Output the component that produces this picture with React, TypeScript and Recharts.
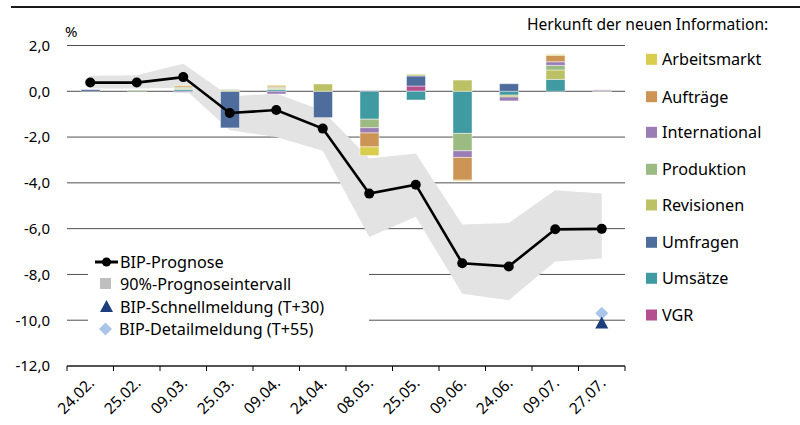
import React from 'react';
import { ComposedChart, Bar, Line, Area, XAxis, YAxis, CartesianGrid } from 'recharts';

const categories = ['24.02.', '25.02.', '09.03.', '25.03.', '09.04.', '24.04.', '08.05.', '25.05.', '09.06.', '24.06.', '09.07.', '27.07.'];
const prognose = [0.38, 0.38, 0.62, -0.95, -0.82, -1.63, -4.47, -4.08, -7.51, -7.65, -6.03, -6.01];
const intervalUpper = [0.68, 0.70, 1.20, -0.22, -0.10, -0.85, -2.94, -2.72, -5.82, -5.75, -4.32, -4.46];
const intervalLower = [0.12, 0.12, 0.15, -1.70, -2.00, -2.60, -6.36, -5.48, -8.84, -9.13, -7.44, -7.30];
const schnellmeldung = [null, null, null, null, null, null, null, null, null, null, null, -10.1];
const detailmeldung = [null, null, null, null, null, null, null, null, null, null, null, -9.7];

const vgr = [0, 0, 0, 0, 0, 0, 0, 0.23, 0, 0, 0, 0];
const umsaetze = [0, 0, 0.08, 0, 0.08, 0, -1.22, -0.38, -1.84, -0.17, 0.52, 0];
const umfragen = [0.08, 0, 0, -1.6, 0, -1.15, 0, 0.44, 0, 0.33, 0, 0];
const revisionen = [0, 0, 0.05, 0.05, 0.05, 0.32, 0, 0.07, 0.49, -0.08, 0.41, 0.02];
const produktion = [0, 0.05, 0.05, 0.03, 0.05, 0, -0.37, 0, -0.76, 0, 0.2, 0];
const international = [0.02, 0, -0.05, 0, -0.12, 0, -0.23, 0, -0.29, -0.17, 0.16, 0.04];
const auftraege = [0, 0, 0.06, 0, 0.05, 0, -0.61, 0, -0.99, 0, 0.28, 0];
const arbeitsmarkt = [0, 0, 0.03, 0, 0.04, 0, -0.38, 0, -0.04, 0, 0.04, 0];

const yTicks = [-12, -10, -8, -6, -4, -2, 0, 2];

// stacking order from zero outward
const barSeries = [
  { key: 'VGR', values: vgr, color: '#b4508e' },
  { key: 'Umsätze', values: umsaetze, color: '#3f9aa2' },
  { key: 'Umfragen', values: umfragen, color: '#4e6d9c' },
  { key: 'Revisionen', values: revisionen, color: '#bbc164' },
  { key: 'Produktion', values: produktion, color: '#9cbb83' },
  { key: 'International', values: international, color: '#9b7db6' },
  { key: 'Aufträge', values: auftraege, color: '#cd9555' },
  { key: 'Arbeitsmarkt', values: arbeitsmarkt, color: '#d9cd4f' },
];
const legendOrder = ['Arbeitsmarkt', 'Aufträge', 'International', 'Produktion', 'Revisionen', 'Umfragen', 'Umsätze', 'VGR'];

const data = categories.map((c, i) => {
  const row: any = {
    cat: c,
    prognose: prognose[i],
    range: [intervalLower[i], intervalUpper[i]],
    schnell: schnellmeldung[i],
    detail: detailmeldung[i],
  };
  barSeries.forEach((s) => { row[s.key] = s.values[i]; });
  return row;
});

const FONT = '"Noto Sans", sans-serif';
const W = 800;
const H = 425;
const M = { top: 45.5, right: 175, left: 7, bottom: 4 };
const Y_W = 60;
const X_H = 55;
const PLOT_W = W - M.left - M.right - Y_W;
const HALF_BAND = PLOT_W / categories.length / 2;

const XTick = (props: any) => {
  const { x, y, payload, index } = props;
  return (
    <g>
      <line x1={x - HALF_BAND} x2={x - HALF_BAND} y1={y} y2={y + 5} stroke="#000" strokeWidth={1} />
      {index === categories.length - 1 && (
        <line x1={x + HALF_BAND} x2={x + HALF_BAND} y1={y} y2={y + 5} stroke="#000" strokeWidth={1} />
      )}
      <text
        transform={`translate(${x + 5},${y + 18}) rotate(-45)`}
        textAnchor="end"
        fontFamily={FONT}
        fontSize={15.5}
        fill="#000"
      >
        {payload.value}
      </text>
    </g>
  );
};

const Diamond = (props: any) => {
  const { cx, cy, value, index } = props;
  if (value == null || cy == null) return <g key={`d${index}`} />;
  const s = 6.5;
  return <path key={`d${index}`} d={`M${cx},${cy - s}L${cx + s},${cy}L${cx},${cy + s}L${cx - s},${cy}Z`} fill="#a9c5e9" />;
};

const Triangle = (props: any) => {
  const { cx, cy, value, index } = props;
  if (value == null || cy == null) return <g key={`t${index}`} />;
  return <path key={`t${index}`} d={`M${cx},${cy - 6}L${cx + 6.5},${cy + 6}L${cx - 6.5},${cy + 6}Z`} fill="#1d3d7b" />;
};

const fmt = (v: number) => v.toFixed(1).replace('.', ',');

export default function App() {
  const rightLegendY = [59.3, 96.7, 132.3, 169.3, 205, 242.3, 278.3, 315];
  return (
    <div style={{ position: 'absolute', left: 0, top: 0, width: W, height: H, background: '#fff' }}>
      <ComposedChart width={W} height={H} data={data} margin={M} stackOffset="sign" barSize={19}>
        <CartesianGrid vertical={false} stroke="#505050" strokeWidth={1} />
        <XAxis
          dataKey="cat"
          height={X_H}
          axisLine={{ stroke: '#000', strokeWidth: 1.2 }}
          tickLine={false}
          tickSize={0}
          tickMargin={0}
          interval={0}
          tick={<XTick />}
        />
        <YAxis
          width={Y_W}
          domain={[-12, 2]}
          ticks={yTicks}
          interval={0}
          axisLine={false}
          tickLine={false}
          tickSize={0}
          tickMargin={17}
          tickFormatter={fmt}
          tick={{ fontFamily: FONT, fontSize: 15, fill: '#000' }}
        />
        <Area dataKey="range" stroke="none" fill="#e3e3e3" fillOpacity={1} isAnimationActive={false} />
        {barSeries.map((s) => (
          <Bar
            key={s.key}
            dataKey={s.key}
            stackId="a"
            fill={s.color}
            stroke="#ffffff"
            strokeOpacity={0.45}
            strokeWidth={1}
            isAnimationActive={false}
          />
        ))}
        <Line dataKey="prognose" stroke="#000" strokeWidth={2.6} dot={{ r: 5, fill: '#000', stroke: '#000', strokeWidth: 0 }} isAnimationActive={false} />
        <Line dataKey="detail" stroke="none" dot={<Diamond />} activeDot={false} isAnimationActive={false} />
        <Line dataKey="schnell" stroke="none" dot={<Triangle />} activeDot={false} isAnimationActive={false} />
      </ComposedChart>
      <svg width={W} height={H} style={{ position: 'absolute', left: 0, top: 0, pointerEvents: 'none' }} fontFamily={FONT}>
        <line x1={11} x2={800} y1={7} y2={7} stroke="#1a1a1a" strokeWidth={2} />
        <text x={65} y={37} fontSize={15} fill="#000">%</text>
        <text x={527} y={29.5} fontSize={15.6} fill="#000">Herkunft der neuen Information:</text>
        {legendOrder.map((k, i) => {
          const s = barSeries.find((b) => b.key === k)!;
          const cy = rightLegendY[i];
          return (
            <g key={k}>
              <rect x={646} y={cy - 5.5} width={11} height={11} fill={s.color} />
              <text x={662} y={cy} dominantBaseline="central" fontSize={16.2} fill="#000">{k}</text>
            </g>
          );
        })}
        <rect x={88} y={250} width={281} height={90} fill="#fff" />
        <line x1={95} x2={118} y1={262} y2={262} stroke="#000" strokeWidth={3} />
        <circle cx={106.5} cy={262} r={4.5} fill="#000" />
        <text x={120} y={261.7} dominantBaseline="central" fontSize={16.2} fill="#000">BIP-Prognose</text>
        <rect x={100} y={278} width={11} height={11} fill="#bfbfbf" />
        <text x={120} y={283.5} dominantBaseline="central" fontSize={16.2} fill="#000">90%-Prognoseintervall</text>
        <path d="M106.5,300L113,312L100,312Z" fill="#1d3d7b" />
        <text x={120} y={306.7} dominantBaseline="central" fontSize={16.2} fill="#000">BIP-Schnellmeldung (T+30)</text>
        <path d="M105.5,322.5L112,329L105.5,335.5L99,329Z" fill="#a9c5e9" />
        <text x={119} y={329} dominantBaseline="central" fontSize={16.2} fill="#000">BIP-Detailmeldung (T+55)</text>
      </svg>
    </div>
  );
}
